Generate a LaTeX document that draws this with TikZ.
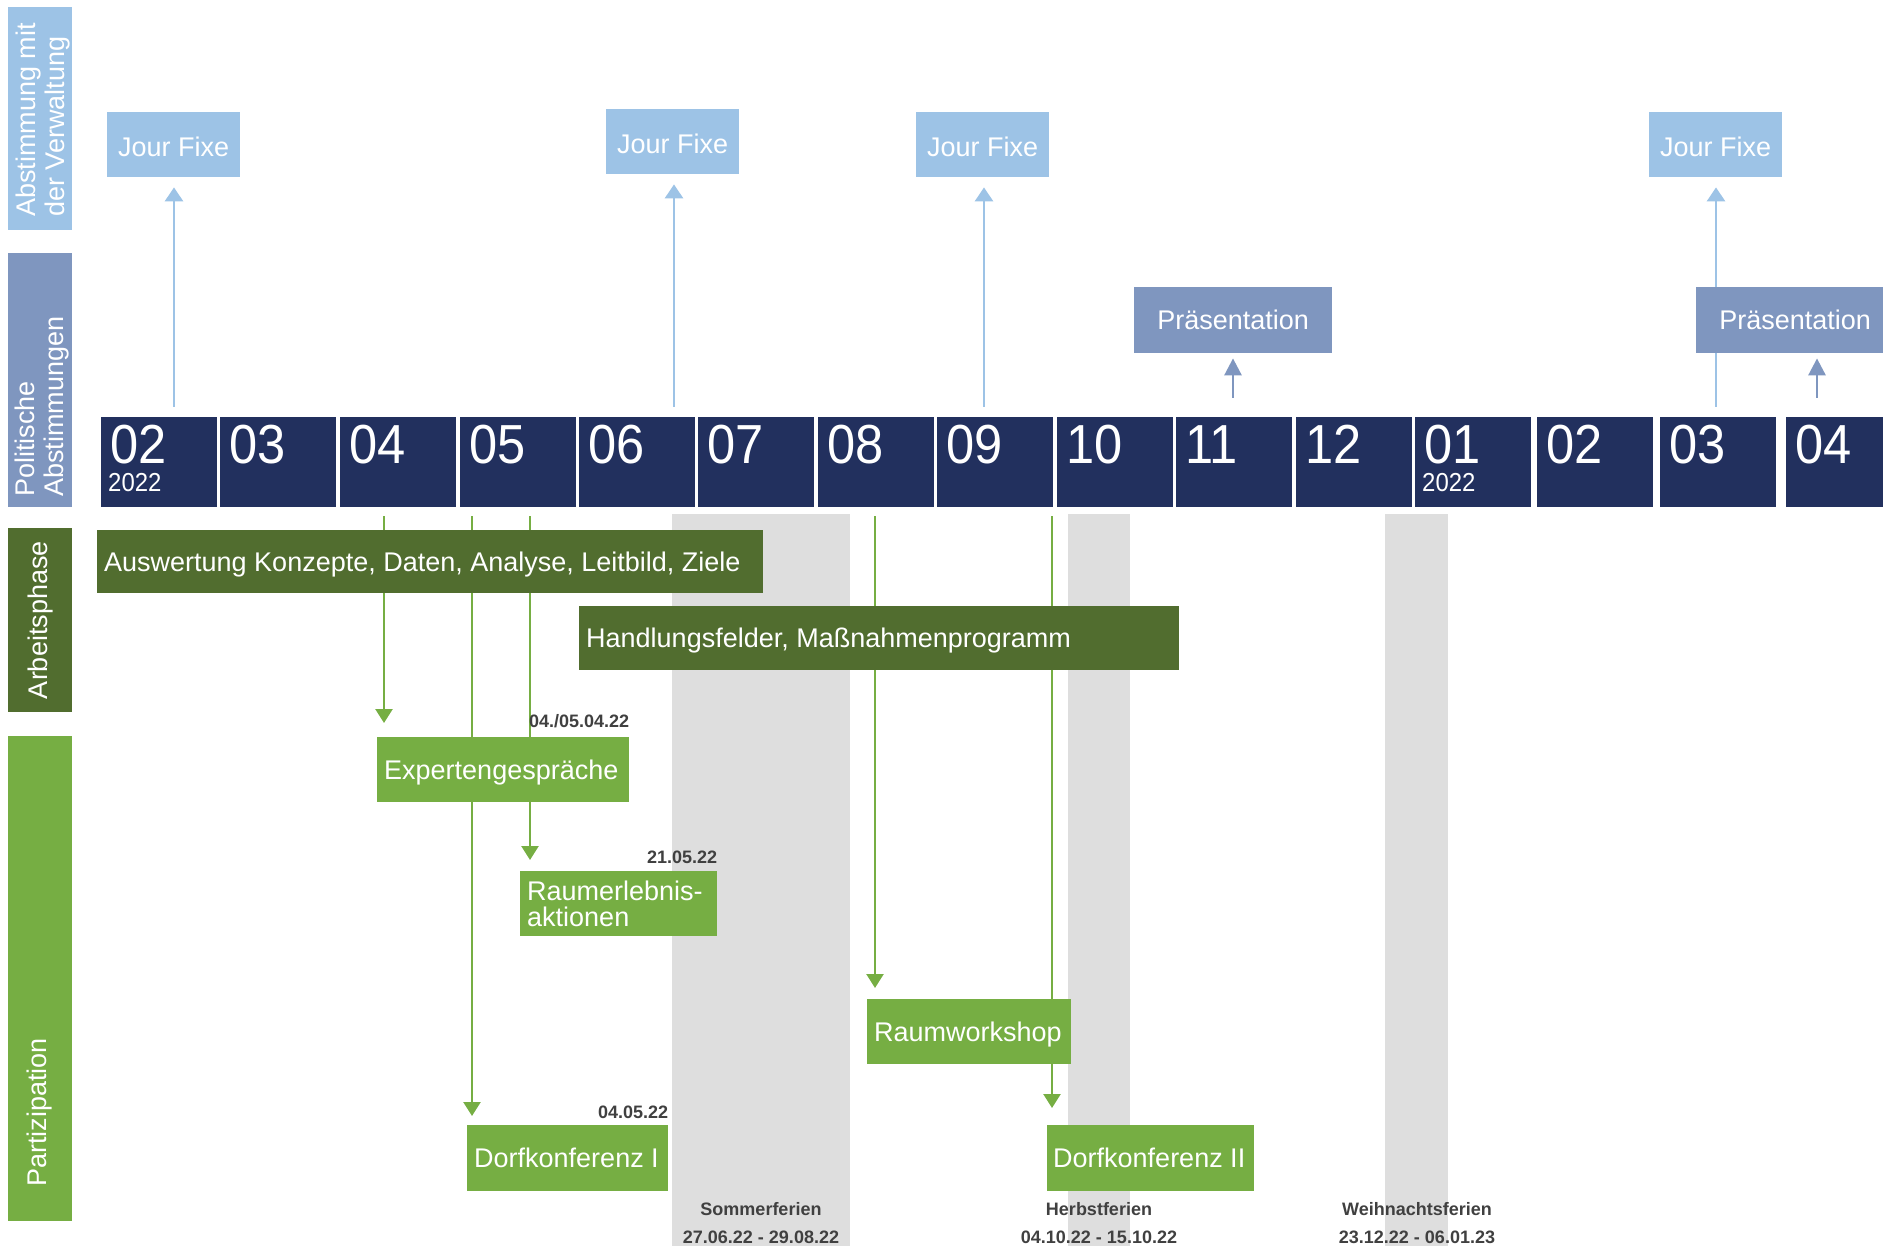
\documentclass[tikz,border=0pt]{standalone}
\usepackage{fontspec}
\setmainfont{Liberation Sans}
\newfontfamily\condfont[FakeStretch=0.92]{Liberation Sans}
\usetikzlibrary{arrows.meta,calc}
\pgfdeclarelayer{bands}
\pgfdeclarelayer{lines}
\pgfsetlayers{bands,lines,main}

\definecolor{jfblue}{HTML}{9DC3E6}
\definecolor{polblue}{HTML}{7F96BF}
\definecolor{navy}{HTML}{22305E}
\definecolor{dkgreen}{HTML}{516D2F}
\definecolor{ltgreen}{HTML}{76AE43}
\definecolor{bandgray}{HTML}{DEDEDE}
\definecolor{datetxt}{HTML}{404040}

\tikzset{
  box/.style={rectangle, inner sep=0pt, anchor=north west, text=white,
    font=\fontsize{27}{30}\selectfont},
  oneline/.style={text height=20pt, text depth=0.6pt},
  jfbox/.style={box, text height=25pt, text depth=0.6pt, fill=jfblue, minimum width=133pt, minimum height=65pt},
  prbox/.style={box, oneline, fill=polblue, minimum width=198pt, minimum height=66pt},
  month/.style={rectangle, inner sep=0pt, anchor=north west, fill=navy,
    minimum width=116pt, minimum height=90pt},
  mnum/.style={anchor=base west, inner sep=0pt, text=white, text height=39pt, text depth=0pt,
    font=\condfont\fontsize{55}{55}\selectfont},
  myear/.style={anchor=base west, inner sep=0pt, text=white, text height=19pt, text depth=0pt,
    font=\condfont\fontsize{26}{26}\selectfont},
  phasebox/.style={box, oneline, fill=dkgreen, inner xsep=7pt, align=flush left},
  partbox/.style={box, fill=ltgreen, inner xsep=7pt, align=flush left},
  sidebox/.style={rectangle, inner sep=0pt, anchor=north west, minimum width=64pt},
  sidetext/.style={rotate=90, inner sep=0pt, text=white, align=flush left,
    font=\fontsize{27}{29}\selectfont},
  datelbl/.style={anchor=base east, inner sep=0pt, text=datetxt,
    font=\bfseries\fontsize{18}{18}\selectfont},
  vaclbl/.style={anchor=base, inner sep=0pt, text=datetxt,
    font=\bfseries\fontsize{18}{18}\selectfont},
  jfarrow/.style={draw=jfblue, line width=2.8pt, -{Triangle[width=18pt,length=14pt]}},
  prarrow/.style={draw=polblue, line width=2.8pt, -{Triangle[width=17pt,length=17pt]}},
  grarrow/.style={draw=ltgreen, line width=2.5pt, -{Triangle[width=17pt,length=14pt]}},
}

\begin{document}
\begin{tikzpicture}[x=1pt,y=-1pt]
\useasboundingbox (0,0) rectangle (1883,1246);

% holiday bands
\begin{pgfonlayer}{bands}
  \fill[bandgray] (672,514) rectangle (850,1246);
  \fill[bandgray] (1068,514) rectangle (1130,1246);
  \fill[bandgray] (1385,514) rectangle (1448,1246);
\end{pgfonlayer}

\begin{scope}
\clip (0,0) rectangle (1883,1246);

% side labels
\node[sidebox, fill=jfblue, minimum height=223pt] (sA) at (8,7) {};
\node[sidetext, anchor=west] (sAt) at (43,217) {Abstimmung mit\\der Verwaltung};
\node[sidebox, fill=polblue, minimum height=254pt] (sP) at (8,253) {};
\node[sidetext, anchor=west] (sPt) at (42,497) {Politische\\Abstimmungen};
\node[sidebox, fill=dkgreen, minimum height=184pt] (sW) at (8,528) {};
\node[sidetext] (sWt) at (sW.center) {Arbeitsphase};
\node[sidebox, fill=ltgreen, minimum height=485pt] (sZ) at (8,736) {};
\node[sidetext, anchor=west] (sZt) at (40,1187) {Partizipation};

% months
\foreach \x/\lab [count=\i] in {101/02,220/03,340/04,460/05,579/06,698/07,818/08,937/09,1057/10,1176/11,1296/12,1415/01,1537/02,1660/03,1786/04}{
  \node[month] (m\i) at (\x,417) {};
  \node[mnum] (n\i) at ($(m\i.north west)+(9,47)$) {\lab};
}
\node[myear] (y1) at ($(m1.north west)+(7,75)$) {2022};
\node[myear] (y12) at ($(m12.north west)+(7,75)$) {2022};

% Jour Fixe
\node[jfbox] (jf1) at (107,112) {Jour Fixe};
\node[jfbox] (jf2) at (606,109) {Jour Fixe};
\node[jfbox] (jf3) at (916,112) {Jour Fixe};
\node[jfbox] (jf4) at (1649,112) {Jour Fixe};

% Praesentation
\node[prbox] (pr1) at (1134,287) {Präsentation};
\node[prbox] (pr2) at (1696,287) {Präsentation};

% work phases
\node[phasebox, text width=652pt, minimum height=63pt] (aw) at (97,530)
  {\mbox{Auswertung Konzepte, Daten, Analyse, Leitbild, Ziele}};
\node[phasebox, text width=586pt, minimum height=64pt] (hf) at (579,606)
  {\mbox{Handlungsfelder, Maßnahmenprogramm}};

% participation
\node[partbox, oneline, text width=238pt, minimum height=65pt] (ex) at (377,737) {\mbox{Expertengespräche}};
\node[partbox, text width=183pt, minimum height=65pt, font=\fontsize{27}{26}\selectfont] (re) at (520,871) {Raumerlebnis-\\aktionen};
\node[partbox, oneline, text width=190pt, minimum height=65pt] (rw) at (867,999) {\mbox{Raumworkshop}};
\node[partbox, oneline, text width=187pt, minimum height=66pt] (dk1) at (467,1125) {\mbox{Dorfkonferenz I}};
\node[partbox, oneline, inner xsep=6pt, text width=195pt, minimum height=66pt] (dk2) at (1047,1125) {\mbox{Dorfkonferenz II}};

% dates
\node[datelbl] (d1) at ($(ex.north east)+(0,-10)$) {04./05.04.22};
\node[datelbl] (d2) at ($(re.north east)+(0,-8)$) {21.05.22};
\node[datelbl] (d3) at ($(dk1.north east)+(0,-7)$) {04.05.22};

% holidays
\node[vaclbl] (v1a) at (761,1215) {Sommerferien};
\node[vaclbl] (v1b) at (761,1243) {27.06.22 - 29.08.22};
\node[vaclbl] (v2a) at (1099,1215) {Herbstferien};
\node[vaclbl] (v2b) at (1099,1243) {04.10.22 - 15.10.22};
\node[vaclbl] (v3a) at (1417,1215) {Weihnachtsferien};
\node[vaclbl] (v3b) at (1417,1243) {23.12.22 - 06.01.23};
\end{scope}

% connector start points
\coordinate (a1) at (174,407);
\coordinate (a2) at (674,407);
\coordinate (a3) at (984,407);
\coordinate (a4) at (1716,407);
\coordinate (p1) at (1233,398);
\coordinate (p2) at (1817,398);
\coordinate (g1) at (384,516);
\coordinate (g2) at (472,516);
\coordinate (g3) at (530,516);
\coordinate (g4) at (875,516);
\coordinate (g5) at (1052,516);

\begin{pgfonlayer}{lines}
  \draw[jfarrow, shorten >=10pt] (a1) -- (a1 |- jf1.south);
  \draw[jfarrow, shorten >=10pt] (a2) -- (a2 |- jf2.south);
  \draw[jfarrow, shorten >=10pt] (a3) -- (a3 |- jf3.south);
  \draw[jfarrow, shorten >=10pt] (a4) -- (a4 |- jf4.south);
  \draw[prarrow, shorten >=5pt] (p1) -- (p1 |- pr1.south);
  \draw[prarrow, shorten >=5pt] (p2) -- (p2 |- pr2.south);
  \draw[grarrow, shorten >=14pt] (g1) -- (g1 |- ex.north);
  \draw[grarrow, shorten >=9pt] (g2) -- (g2 |- dk1.north);
  \draw[grarrow, shorten >=11pt] (g3) -- (g3 |- re.north);
  \draw[grarrow, shorten >=11pt] (g4) -- (g4 |- rw.north);
  \draw[grarrow, shorten >=17pt] (g5) -- (g5 |- dk2.north);
\end{pgfonlayer}
\end{tikzpicture}
\end{document}
